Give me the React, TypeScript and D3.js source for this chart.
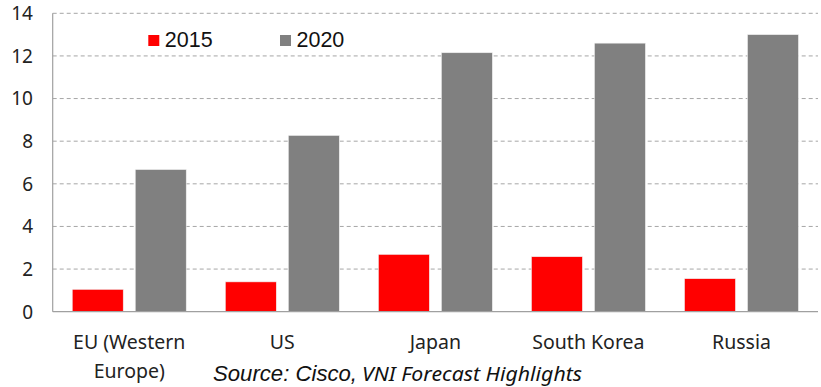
import React from "react";
import * as d3 from "d3";

const categories = ["EU (Western\nEurope)", "US", "Japan", "South Korea", "Russia"];
const series2015 = [1.05, 1.4, 2.69, 2.58, 1.55];
const series2020 = [6.67, 8.27, 12.15, 12.6, 13.0];
const seriesNames = ["2015", "2020"];
const seriesColors = ["#ff0000", "#808080"];
const yTicks = [0, 2, 4, 6, 8, 10, 12, 14];

export default function App() {
  const W = 821, H = 387;
  const left = 52.7, right = 818, top = 13.3, bottom = 311.7;
  const x = d3.scaleBand<string>().domain(categories).range([left, right]).paddingInner(0).paddingOuter(0);
  const y = d3.scaleLinear().domain([0, 14]).range([bottom, top]);
  const bw = x.bandwidth();
  const barW = 51;
  const gap = 12;
  const off = (bw - (2 * barW + gap)) / 2;
  const data = [series2015, series2020];
  const tickFont = "'Noto Sans', sans-serif";
  return (
    <svg width={W} height={H} style={{ position: "absolute", left: 0, top: 0, background: "#fff" }}>
      {yTicks.filter(t => t > 0).map(t => (
        <line key={t} x1={left} x2={right} y1={y(t)} y2={y(t)} stroke="#a6a6a6" strokeWidth={1} strokeDasharray="4,3" />
      ))}
      {data.map((s, si) =>
        s.map((v, i) => {
          const bx = (x(categories[i]) as number) + off + si * (barW + gap);
          return (
            <rect key={si + "-" + i} x={bx} y={y(v)} width={barW} height={y(0) - y(v)} fill={seriesColors[si]} stroke="#f0f0f0" strokeWidth={0.6} />
          );
        })
      )}
      <line x1={left} x2={left} y1={top} y2={bottom} stroke="#a0a0a0" strokeWidth={1.2} />
      <line x1={left} x2={right} y1={bottom} y2={bottom} stroke="#a0a0a0" strokeWidth={1.2} />
      {yTicks.map(t => (
        <text key={t} x={33} y={y(t)} dy="0.36em" textAnchor="end" fontFamily={tickFont} fontSize={19} fill="#222">{t}</text>
      ))}
      {categories.map((c, i) => {
        const cx = (x(c) as number) + bw / 2;
        const lines = c.split("\n");
        return (
          <text key={c} x={cx} y={349} textAnchor="middle" fontFamily={tickFont} fontSize={19.5} fill="#222">
            {lines.map((l, li) => (
              <tspan key={li} x={cx} dy={li === 0 ? 0 : 28.5}>{l}</tspan>
            ))}
          </text>
        );
      })}
      {seriesNames.map((n, i) => {
        const lx = 148.3 + i * 131.7;
        return (
          <g key={n}>
            <rect x={lx} y={35} width={11} height={11} fill={seriesColors[i]} />
            <text x={lx + 16.5} y={47.3} fontFamily="'Liberation Sans', Arial, sans-serif" fontSize={21.5} fill="#111">{n}</text>
          </g>
        );
      })}
      <text x={213} y={381} fontStyle="italic" fill="#111" fontFamily="'Liberation Sans', Arial, sans-serif" fontSize={21.5} textLength={144} lengthAdjust="spacingAndGlyphs">Source: Cisco,</text>
      <text x={362} y={381} fontStyle="italic" fill="#111" fontFamily={tickFont} fontSize={20} textLength={220} lengthAdjust="spacingAndGlyphs">VNI Forecast Highlights</text>
    </svg>
  );
}
